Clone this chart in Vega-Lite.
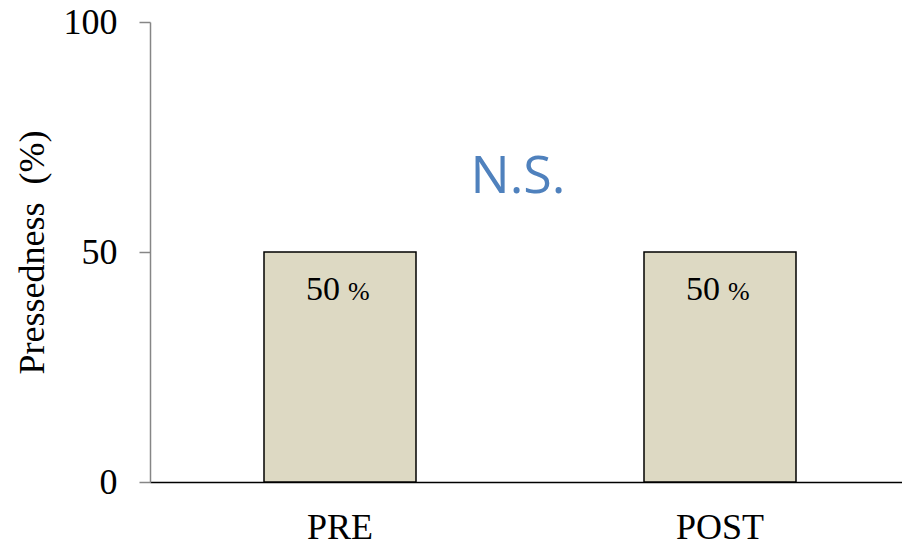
{
  "$schema": "https://vega.github.io/schema/vega-lite/v6.json",
  "width": 760,
  "height": 460,
  "autosize": {"type": "none"},
  "padding": {"left": 150, "top": 22, "right": 0, "bottom": 63},
  "background": "white",
  "config": {"view": {"stroke": null}},
  "datasets": {
    "bars": [
      {"phase": "PRE", "value": 50, "num": "50", "unit": "%"},
      {"phase": "POST", "value": 50, "num": "50", "unit": "%"}
    ],
    "note": [{"text": "N.S.", "value": 62.8}]
  },
  "layer": [
    {
      "data": {"name": "bars"},
      "mark": {"type": "bar", "fill": "#DDD9C3", "stroke": "#000000", "strokeWidth": 1.5},
      "encoding": {
        "x": {
          "field": "phase", "type": "nominal", "sort": ["PRE", "POST"],
          "scale": {"paddingInner": 0.6, "paddingOuter": 0.3},
          "axis": {
            "title": null, "labelAngle": 0, "ticks": false,
            "domainColor": "#000000", "domainWidth": 1.5,
            "labelFont": "Liberation Serif", "labelFontSize": 36, "labelColor": "#000000",
            "labelPadding": 28
          }
        },
        "y": {
          "field": "value", "type": "quantitative",
          "scale": {"domain": [0, 100]},
          "axis": {
            "title": "Pressedness\u00a0\u00a0(%)", "values": [0, 50, 100], "grid": false,
            "domainColor": "#868686", "domainWidth": 1.5,
            "tickColor": "#868686", "tickWidth": 1.5, "tickSize": 11,
            "labelFont": "Liberation Serif", "labelFontSize": 36, "labelColor": "#000000",
            "labelPadding": 22,
            "titleFont": "Liberation Serif", "titleFontSize": 36, "titleFontWeight": "normal",
            "titleColor": "#000000", "titlePadding": 12
          }
        }
      }
    },
    {
      "data": {"name": "bars"},
      "mark": {"type": "text", "align": "right", "baseline": "alphabetic", "dy": 48, "dx": 0,
               "font": "Liberation Serif", "fontSize": 34, "color": "#000000"},
      "encoding": {
        "x": {"field": "phase", "type": "nominal", "sort": ["PRE", "POST"]},
        "y": {"field": "value", "type": "quantitative"},
        "text": {"field": "num"}
      }
    },
    {
      "data": {"name": "bars"},
      "mark": {"type": "text", "align": "left", "baseline": "alphabetic", "dy": 48, "dx": 8,
               "font": "Liberation Serif", "fontSize": 26, "color": "#000000"},
      "encoding": {
        "x": {"field": "phase", "type": "nominal", "sort": ["PRE", "POST"]},
        "y": {"field": "value", "type": "quantitative"},
        "text": {"field": "unit"}
      }
    },
    {
      "data": {"name": "note"},
      "mark": {"type": "text", "align": "center", "baseline": "alphabetic", "dx": -12,
               "font": "Open Sans", "fontSize": 52, "color": "#4F81BD"},
      "encoding": {
        "y": {"field": "value", "type": "quantitative"},
        "text": {"field": "text"}
      }
    }
  ]
}
